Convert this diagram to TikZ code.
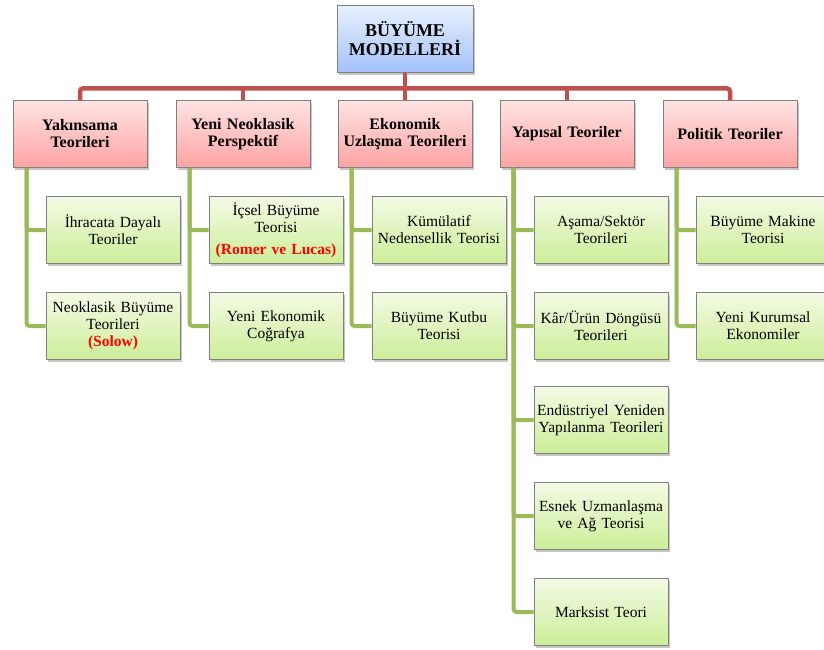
\documentclass[tikz,border=0pt]{standalone}
\usepackage{fontspec}
\setmainfont{Liberation Serif}
\usetikzlibrary{shadows}
\definecolor{busred}{HTML}{C0504D}
\definecolor{stemgreen}{HTML}{9BBB59}
\definecolor{rootblue}{HTML}{A3C2FA}
\definecolor{grouppink}{HTML}{FFA3A3}
\definecolor{leafgreen}{HTML}{CDEE98}

\begin{document}
\begin{tikzpicture}[x=1pt,y={(0pt,-1pt)},
    box/.style={draw=black!50, line width=0.8pt, text width=132pt, inner xsep=1pt, inner ysep=4pt,
        minimum height=67pt, align=center, font=\fontsize{15.5}{17}\selectfont,
        drop shadow={opacity=0.45, shadow xshift=1.5pt, shadow yshift=-2pt}},
    rootbox/.style={box, top color=rootblue!25, bottom color=rootblue, text width=134pt,
        font=\bfseries\fontsize{18}{19}\selectfont},
    groupbox/.style={box, top color=grouppink!30, bottom color=grouppink,
        font=\bfseries\fontsize{16}{17}\selectfont},
    leafbox/.style={box, top color=leafgreen!25, bottom color=leafgreen},
    busline/.style={busred, line width=4.5pt, rounded corners=3pt},
    stemline/.style={stemgreen, line width=4pt, rounded corners=3pt}]
    \useasboundingbox (0,0) rectangle (824,649);
    % top box
    \node[rootbox] (root) at (405,39) {BÜYÜME\\MODELLERİ};
    % groups
    \node[groupbox] (yak) at (80,134) {Yakınsama\\Teorileri};
    \node[groupbox] (neo) at (243,134) {Yeni Neoklasik\\Perspektif};
    \node[groupbox] (eko) at (405,134) {Ekonomik\\Uzlaşma Teorileri};
    \node[groupbox] (yap) at (567,134) {Yapısal Teoriler};
    \node[groupbox] (pol) at (730,134) {Politik Teoriler};
    % leaves
    \node[leafbox] (ihr) at (113,230) {İhracata Dayalı\\Teoriler};
    \node[leafbox] (nbt) at (113,326) {Neoklasik Büyüme\\Teorileri\\{\color{red}\bfseries(Solow)}};
    \node[leafbox] (icb) at (276,230) {İçsel Büyüme\\Teorisi\\[5pt]{\color{red}\bfseries(Romer ve Lucas)}};
    \node[leafbox] (yec) at (276,326) {Yeni Ekonomik\\Coğrafya};
    \node[leafbox] (kum) at (439,230) {Kümülatif\\Nedensellik Teorisi};
    \node[leafbox] (bkt) at (439,326) {Büyüme Kutbu\\Teorisi};
    \node[leafbox] (ase) at (601,230) {Aşama/Sektör\\Teorileri};
    \node[leafbox] (kud) at (601,326) {Kâr/Ürün Döngüsü\\Teorileri};
    \node[leafbox] (eyy) at (601,420) {Endüstriyel Yeniden\\Yapılanma Teorileri};
    \node[leafbox] (eua) at (601,516) {Esnek Uzmanlaşma\\ve Ağ Teorisi};
    \node[leafbox] (mar) at (601,612) {Marksist Teori};
    \node[leafbox] (bmt) at (763,230) {Büyüme Makine\\Teorisi};
    \node[leafbox] (yke) at (763,326) {Yeni Kurumsal\\Ekonomiler};
    % red bus
    \draw[busline] (root.south) -- ++(0,15.5) coordinate (bus);
    \draw[busline] (yak.north) |- (bus) -| (pol.north);
    \foreach \g in {neo,eko,yap}
        \draw[busline] (\g.north) -- (\g.north |- bus);
    % green stems
    \foreach \g/\a/\b in {yak/ihr/nbt, neo/icb/yec, eko/kum/bkt, pol/bmt/yke} {
        \draw[stemline] ([xshift=14pt]\g.south west) |- (\a.west);
        \draw[stemline] ([xshift=14pt]\g.south west) |- (\b.west);
    }
    \foreach \c in {ase,kud,eyy,eua,mar}
        \draw[stemline] ([xshift=14pt]yap.south west) |- (\c.west);
\end{tikzpicture}
\end{document}
